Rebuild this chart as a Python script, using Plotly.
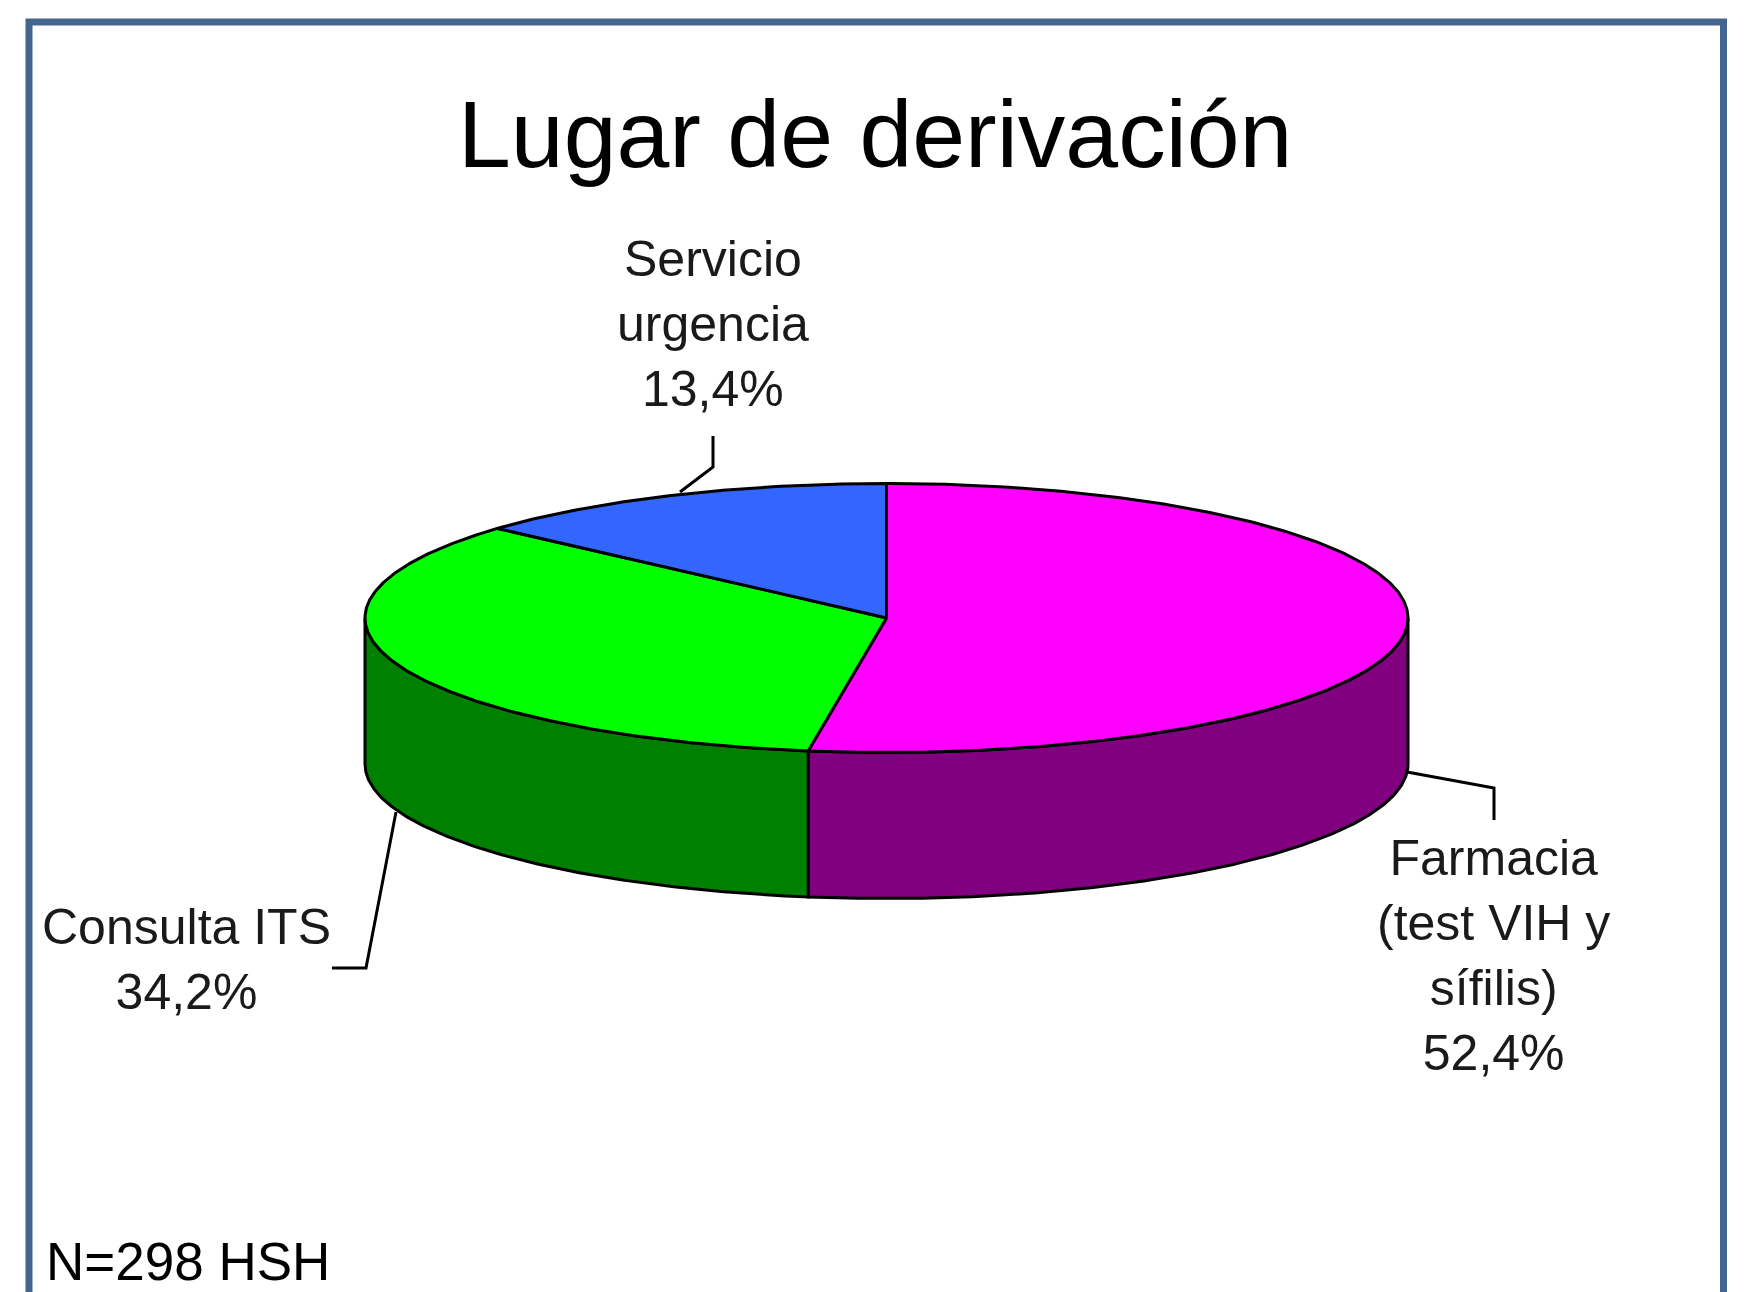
import numpy as np
import plotly.graph_objects as go

# --- data ---
categories = ["Farmacia<br>(test VIH y<br>sífilis)", "Consulta ITS", "Servicio<br>urgencia"]
values = [52.4, 34.2, 13.4]
top_colors = ["#FF00FF", "#00FF00", "#3366FF"]
side_colors = ["#800080", "#008000", None]
title_text = "Lugar de derivación"
note_text = "N=298 HSH"

# --- pie geometry (page pixels) ---
W, H = 1744, 1292
CX, CY, RX, RY, DEPTH = 886.5, 618.0, 521.5, 134.5, 146.0
LINE = "#000000"
LW = 3.0


def ell(deg, dy=0.0):
    t = np.radians(deg)
    return CX + RX * np.sin(t), CY - RY * np.cos(t) + dy


def arc(a, b):
    n = max(int(abs(b - a) * 2), 2)
    return np.linspace(a, b, n)


fig = go.Figure()
edges = np.concatenate([[0], np.cumsum(values)]) * 3.6

# sides of the visible (front) half
for i, col in enumerate(side_colors):
    a, b = max(edges[i], 90), min(edges[i + 1], 270)
    if col is None or a >= b:
        continue
    ts = arc(a, b)
    xt, yt = ell(ts)
    xb, yb = ell(ts[::-1], DEPTH)
    fig.add_trace(go.Scatter(
        x=np.r_[xt, xb, xt[0]], y=np.r_[yt, yb, yt[0]], mode="lines",
        fill="toself", fillcolor=col, line=dict(color=LINE, width=LW),
        hoverinfo="skip", showlegend=False))

# top faces
for i, col in enumerate(top_colors):
    xt, yt = ell(arc(edges[i], edges[i + 1]))
    fig.add_trace(go.Scatter(
        x=np.r_[CX, xt, CX], y=np.r_[CY, yt, CY], mode="lines",
        fill="toself", fillcolor=col, line=dict(color=LINE, width=LW),
        hoverinfo="skip", showlegend=False))

# leader lines
leaders = [
    ([1407, 772, 1494, 788, 1494, 820]),
    ([396, 812, 366, 968, 332, 968]),
    ([680, 492, 713, 467, 713, 436]),
]
for pts in leaders:
    fig.add_trace(go.Scatter(
        x=pts[0::2], y=pts[1::2], mode="lines",
        line=dict(color=LINE, width=3), hoverinfo="skip", showlegend=False))

# frame
fig.add_shape(type="path", path="M 29 1330 L 29 22 L 1723.5 22 L 1723.5 1330",
              line=dict(color="#44658F", width=7), layer="above")

label_font = dict(family="Liberation Sans, Arial, sans-serif", size=50, color="#1A1A1A")
label_pos = [(1493, 955), (186, 959), (713, 324)]
for cat, v, (lx, ly) in zip(categories, values, label_pos):
    fig.add_annotation(x=lx, y=ly, text=f"{cat}<br>{v:.1f}%".replace(".", ","),
                       showarrow=False, xanchor="center", yanchor="middle", align="center",
                       font=label_font)

fig.add_annotation(x=875, y=134, text=title_text, showarrow=False, xanchor="center", yanchor="middle",
                   font=dict(family="Liberation Sans, Arial, sans-serif", size=95, color="#000000"))
fig.add_annotation(x=44, y=1261, text=note_text, showarrow=False, xanchor="left", yanchor="middle",
                   font=dict(family="Liberation Sans, Arial, sans-serif", size=53, color="#000000"))

fig.update_layout(
    width=W, height=H, margin=dict(l=0, r=0, t=0, b=0),
    paper_bgcolor="#FFFFFF", plot_bgcolor="#FFFFFF", showlegend=False,
    xaxis=dict(range=[0, W], visible=False, fixedrange=True),
    yaxis=dict(range=[H, 0], visible=False, fixedrange=True),
)
fig.write_html("out.html", config={"displayModeBar": False},
               post_script="document.body.style.margin='0';document.body.style.overflow='hidden';")
